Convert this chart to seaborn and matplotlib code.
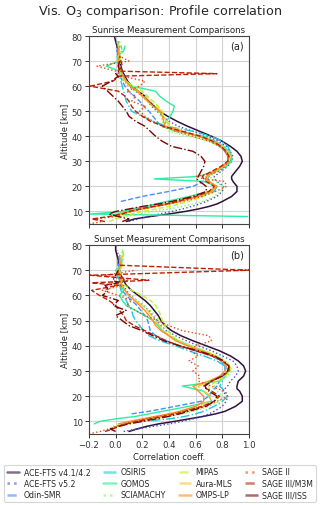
import numpy as np
import pandas as pd
import matplotlib
matplotlib.use("Agg")
import matplotlib.pyplot as plt
import seaborn as sns

N = float("nan")

ALT = [5, 6, 7, 8, 9, 10, 11, 12, 13, 14,
       16, 18, 20, 22, 23, 24,
       26, 28, 30, 32, 34, 36, 38, 40, 42, 44, 46, 48, 50, 52, 54, 56, 58, 60, 62,
       64, 65, 66,
       68, 70, 72, 74, 76, 78, 80]

INSTRUMENTS = ["ACE-FTS v4.1/4.2", "ACE-FTS v5.2", "Odin-SMR", "OSIRIS", "GOMOS",
               "SCIAMACHY", "MIPAS", "Aura-MLS", "OMPS-LP", "SAGE II",
               "SAGE III/M3M", "SAGE III/ISS"]
LINESTYLES = ["-", ":", "--", "-.", "-", ":", "--", "-.", "-", ":", "--", "-."]

# ---------------- Sunrise (a) ----------------
SR_ACE41 = [N, 0.08, 0.14, 0.26, 0.40, 0.52, 0.62, 0.70, 0.76, 0.80,
            0.87, 0.91, 0.91, 0.88, 0.87, 0.87,
            0.90, 0.93, 0.95, 0.94, 0.91, 0.86, 0.80, 0.72, 0.63, 0.54, 0.46, 0.39, 0.33, 0.29, 0.25, 0.22, 0.17, 0.12, 0.09,
            0.07, 0.06, 0.05,
            0.04, 0.03, 0.02, 0.02, 0.01, 0.00, -0.01]
SR_ACE52 = [N, 0.10, 0.17, 0.25, 0.33, 0.42, 0.50, 0.57, 0.63, 0.68,
            0.76, 0.80, 0.81, 0.76, 0.74, 0.74,
            0.79, 0.84, 0.87, 0.88, 0.86, 0.83, 0.77, 0.69, 0.58, 0.47, 0.40, 0.35, 0.31, 0.27, 0.24, 0.20, 0.15, 0.10, 0.07,
            0.05, 0.04, 0.04,
            0.03, 0.02, 0.02, 0.01, 0.01, 0.00, N]
SR_ODIN = [N, N, N, N, N, N, N, N, N, 0.04,
           0.20, 0.40, 0.58, 0.66, 0.67, 0.69,
           0.76, 0.81, 0.84, 0.84, 0.82, 0.78, 0.72, 0.62, 0.50, 0.34, 0.31, 0.28, 0.25, 0.21, 0.18, 0.14, 0.10, 0.07, 0.05,
           0.04, 0.03, 0.03,
           0.02, 0.02, 0.03, 0.01, 0.02, 0.02, N]
SR_OSIRIS = [N, N, N, -0.02, 0.02, 0.08, 0.17, 0.27, 0.36, 0.45,
             0.62, 0.74, 0.76, 0.70, 0.69, 0.70,
             0.75, 0.82, 0.86, 0.87, 0.86, 0.84, 0.80, 0.72, 0.58, 0.38, 0.28, 0.20, 0.12, 0.10, 0.08, 0.07, 0.06, 0.05, 0.04,
             0.03, 0.03, 0.04,
             0.02, 0.03, 0.02, 0.05, 0.04, N, N]
SR_GOMOS = [N, N, N, 0.99, -0.19, 0.05, 0.12, 0.22, 0.30, 0.38,
            0.55, 0.70, 0.76, 0.66, 0.29, 0.62,
            0.74, 0.83, 0.87, 0.87, 0.85, 0.81, 0.75, 0.66, 0.45, 0.36, 0.38, 0.41, 0.43, 0.44, 0.38, 0.33, 0.30, 0.12, 0.08,
            0.05, 0.04, 0.03,
            -0.07, 0.02, 0.01, 0.06, 0.07, N, N]
SR_SCIA = [N, N, 0.00, 0.08, 0.18, 0.28, 0.40, 0.50, 0.58, 0.65,
           0.74, 0.79, 0.80, 0.75, 0.72, 0.71,
           0.76, 0.82, 0.86, 0.86, 0.83, 0.78, 0.70, 0.55, 0.40, 0.36, 0.35, 0.34, 0.32, 0.28, 0.24, 0.20, 0.15, 0.10, 0.06,
           0.04, 0.03, 0.03,
           0.03, 0.04, 0.03, 0.05, 0.04, 0.03, N]
SR_MIPAS = [N, -0.05, 0.00, 0.05, 0.12, 0.20, 0.30, 0.40, 0.48, 0.55,
            0.66, 0.73, 0.75, 0.70, 0.68, 0.68,
            0.74, 0.80, 0.84, 0.85, 0.83, 0.79, 0.73, 0.62, 0.47, 0.40, 0.38, 0.36, 0.35, 0.32, 0.28, 0.24, 0.20, 0.13, 0.08,
            0.05, 0.04, 0.04,
            0.02, 0.03, 0.04, 0.03, 0.02, 0.03, N]
SR_MLS = [N, N, N, -0.02, 0.05, 0.12, 0.20, 0.30, 0.38, 0.46,
          0.60, 0.70, 0.74, 0.71, 0.69, 0.69,
          0.75, 0.81, 0.85, 0.86, 0.84, 0.80, 0.74, 0.64, 0.50, 0.42, 0.38, 0.36, 0.34, 0.30, 0.26, 0.22, 0.17, 0.11, 0.07,
          0.05, 0.04, 0.03,
          0.02, 0.01, 0.02, 0.03, 0.02, 0.01, N]
SR_OMPS = [N, N, N, N, 0.02, 0.10, 0.20, 0.30, 0.40, 0.48,
           0.62, 0.72, 0.76, 0.70, 0.68, 0.68,
           0.74, 0.80, 0.84, 0.85, 0.83, 0.79, 0.73, 0.63, 0.48, 0.37, 0.36, 0.35, 0.33, 0.28, 0.24, 0.20, 0.16, 0.11, 0.08,
           0.06, 0.05, 0.04,
           0.03, 0.02, 0.03, 0.02, 0.03, N, N]
SR_SAGE2 = [-0.20, -0.10, -0.15, 0.00, 0.05, 0.12, 0.20, 0.30, 0.40, 0.50,
            0.65, 0.75, 0.83, 0.82, 0.66, 0.60,
            0.78, 0.82, 0.85, 0.84, 0.82, 0.78, 0.70, 0.58, 0.45, 0.35, 0.28, 0.22, 0.18, 0.22, 0.12, 0.15, 0.08, 0.18, 0.22,
            0.05, 0.02, 0.00,
            -0.14, 0.10, 0.03, N, N, N, N]
SR_M3M = [N, -0.08, -0.18, -0.05, 0.05, 0.10, 0.18, 0.28, 0.38, 0.46,
          0.60, 0.70, 0.74, 0.68, 0.66, 0.65,
          0.72, 0.79, 0.84, 0.85, 0.83, 0.79, 0.73, 0.64, 0.50, 0.36, 0.26, 0.20, 0.15, 0.12, 0.10, 0.07, 0.02, -0.19, -0.02,
          0.03, 0.76, 0.02,
          0.05, 0.04, 0.03, N, N, N, N]
SR_ISS = [N, 0.05, 0.10, 0.02, -0.05, 0.00, 0.10, 0.20, 0.32, 0.42,
          0.58, 0.68, 0.68, 0.63, 0.61, 0.62,
          0.64, 0.66, 0.67, 0.64, 0.58, 0.42, 0.35, 0.30, 0.26, 0.22, 0.15, 0.10, 0.08, 0.05, 0.02, -0.02, -0.06, -0.10, -0.03,
          0.02, 0.00, 0.03,
          0.02, 0.03, N, N, N, N, N]

# ---------------- Sunset (b) ----------------
SS_ACE41 = [N, 0.10, 0.16, 0.23, 0.32, 0.44, 0.55, 0.66, 0.75, 0.82,
            0.90, 0.95, 0.95, 0.93, 0.91, 0.91,
            0.92, 0.96, 0.975, 0.96, 0.92, 0.86, 0.78, 0.68, 0.58, 0.49, 0.42, 0.37, 0.34, 0.32, 0.29, 0.26, 0.22, 0.17, 0.12,
            0.08, 0.07, 0.06,
            0.04, 0.03, 0.02, 0.02, 0.01, 0.00, 0.00]
SS_ACE52 = [N, 0.06, 0.16, 0.28, 0.40, 0.50, 0.58, 0.65, 0.70, 0.74,
            0.80, 0.83, 0.84, 0.80, 0.82, 0.84,
            0.86, 0.90, 0.92, 0.91, 0.88, 0.80, 0.72, 0.62, 0.53, 0.45, 0.38, 0.34, 0.31, 0.28, 0.25, 0.21, 0.16, 0.11, 0.08,
            0.06, 0.05, 0.05,
            0.04, 0.03, 0.03, 0.02, 0.02, 0.01, N]
SS_ODIN = [N, N, N, N, N, N, N, N, 0.12, 0.25,
           0.45, 0.64, 0.70, 0.72, 0.74, 0.76,
           0.78, 0.80, 0.82, 0.82, 0.79, 0.72, 0.60, 0.48, 0.38, 0.30, 0.26, 0.25, 0.24, 0.22, 0.19, 0.16, 0.12, 0.08, 0.05,
           0.04, 0.03, 0.03,
           0.02, 0.03, 0.02, 0.04, 0.02, N, N]
SS_OSIRIS = [N, N, N, N, 0.05, 0.20, 0.40, 0.52, 0.60, 0.66,
             0.74, 0.80, 0.84, 0.82, 0.80, 0.78,
             0.80, 0.82, 0.84, 0.82, 0.76, 0.66, 0.55, 0.45, 0.33, 0.25, 0.21, 0.18, 0.15, 0.13, 0.12, 0.10, 0.08, 0.06, 0.04,
             0.03, 0.02, 0.03,
             0.01, 0.02, 0.03, 0.05, 0.03, N, N]
SS_GOMOS = [N, N, N, N, -0.16, -0.12, 0.00, 0.15, 0.25, 0.35,
            0.55, 0.72, 0.70, 0.66, 0.58, 0.50,
            0.78, 0.82, 0.85, 0.85, 0.80, 0.74, 0.66, 0.56, 0.47, 0.40, 0.35, 0.32, 0.28, 0.22, 0.15, 0.08, 0.05, 0.03, 0.06,
            0.03, 0.02, 0.04,
            0.02, 0.00, 0.04, 0.03, 0.06, 0.05, N]
SS_SCIA = [N, N, N, -0.02, 0.05, 0.15, 0.28, 0.40, 0.50, 0.58,
           0.70, 0.78, 0.80, 0.76, 0.74, 0.74,
           0.78, 0.84, 0.87, 0.86, 0.82, 0.76, 0.66, 0.55, 0.46, 0.40, 0.37, 0.35, 0.33, 0.30, 0.26, 0.21, 0.16, 0.10, 0.07,
           0.05, 0.04, 0.04,
           0.03, 0.02, 0.04, 0.06, 0.04, 0.05, N]
SS_MIPAS = [N, N, -0.04, 0.02, 0.08, 0.16, 0.26, 0.36, 0.45, 0.53,
            0.66, 0.74, 0.77, 0.72, 0.70, 0.70,
            0.76, 0.82, 0.86, 0.86, 0.82, 0.76, 0.67, 0.57, 0.48, 0.42, 0.39, 0.37, 0.35, 0.34, 0.32, 0.30, 0.26, 0.20, 0.12,
            0.07, 0.06, 0.05,
            0.04, 0.03, 0.05, 0.04, 0.06, 0.05, N]
SS_MLS = [N, N, N, 0.00, 0.06, 0.14, 0.24, 0.34, 0.43, 0.50,
          0.62, 0.70, 0.72, 0.66, 0.63, 0.62,
          0.72, 0.80, 0.84, 0.84, 0.80, 0.74, 0.64, 0.54, 0.46, 0.40, 0.36, 0.33, 0.30, 0.27, 0.24, 0.20, 0.15, 0.10, 0.07,
          0.05, 0.04, 0.04,
          0.03, 0.03, 0.05, 0.04, 0.06, N, N]
SS_OMPS = [N, N, N, N, 0.02, 0.10, 0.20, 0.30, 0.40, 0.48,
           0.60, 0.66, 0.66, 0.62, 0.60, 0.58,
           0.70, 0.78, 0.82, 0.83, 0.80, 0.74, 0.64, 0.54, 0.45, 0.40, 0.34, 0.30, 0.28, 0.25, 0.22, 0.18, 0.14, 0.10, 0.07,
           0.05, 0.04, 0.04,
           0.03, 0.02, 0.04, 0.03, 0.03, N, N]
SS_SAGE2 = [-0.20, -0.12, -0.05, 0.00, 0.06, 0.14, 0.22, 0.32, 0.42, 0.50,
            0.65, 0.76, 0.84, 0.82, 0.76, 0.72,
            0.62, 0.63, 0.58, 0.62, 0.55, 0.62, 0.56, 0.60, 0.72, 0.70, 0.50, 0.40, 0.32, 0.22, 0.15, 0.08, 0.12, 0.02, -0.10,
            0.05, -0.05, 0.10,
            -0.08, 0.15, N, N, N, N, N]
SS_M3M = [N, -0.08, -0.02, 0.02, 0.08, 0.16, 0.26, 0.36, 0.45, 0.52,
          0.65, 0.74, 0.78, 0.72, 0.68, 0.66,
          0.72, 0.80, 0.85, 0.85, 0.80, 0.72, 0.60, 0.48, 0.38, 0.30, 0.22, 0.14, 0.08, 0.06, 0.03, 0.00, -0.05, -0.12, -0.18,
          0.02, -0.18, 0.25,
          -0.19, 1.00, 0.02, N, N, N, N]
SS_ISS = [N, 0.00, -0.04, 0.02, 0.10, 0.20, 0.30, 0.40, 0.48, 0.55,
          0.68, 0.74, 0.76, 0.70, 0.68, 0.67,
          0.72, 0.80, 0.84, 0.85, 0.81, 0.74, 0.62, 0.48, 0.36, 0.28, 0.20, 0.10, 0.05, 0.00, 0.08, -0.02, 0.02, -0.10, -0.05,
          -0.08, 0.02, -0.02,
          0.00, 0.02, N, N, N, N, N]

SUNRISE = [SR_ACE41, SR_ACE52, SR_ODIN, SR_OSIRIS, SR_GOMOS, SR_SCIA,
           SR_MIPAS, SR_MLS, SR_OMPS, SR_SAGE2, SR_M3M, SR_ISS]
SUNSET = [SS_ACE41, SS_ACE52, SS_ODIN, SS_OSIRIS, SS_GOMOS, SS_SCIA,
          SS_MIPAS, SS_MLS, SS_OMPS, SS_SAGE2, SS_M3M, SS_ISS]

rows = []
for panel, series in (("a", SUNRISE), ("b", SUNSET)):
    for name, vals in zip(INSTRUMENTS, series):
        for alt, r in zip(ALT, vals):
            rows.append({"panel": panel, "instrument": name, "alt": alt, "r": r})
df = pd.DataFrame(rows)

sns.set_theme(style="whitegrid", rc={
    "axes.edgecolor": "#444444",
    "axes.linewidth": 0.8,
    "grid.color": "#d3d3d3",
    "grid.linewidth": 0.8,
    "xtick.bottom": True,
    "ytick.left": True,
    "xtick.major.size": 3,
    "ytick.major.size": 3,
    "xtick.major.width": 0.7,
    "ytick.major.width": 0.7,
    "xtick.color": "#333333",
    "ytick.color": "#333333",
})
plt.rcParams["font.family"] = ["DejaVu Sans"]

cmap = matplotlib.colormaps["turbo"]
COLORS = [cmap(v) for v in np.linspace(0, 1, 12)]

fig = plt.figure(figsize=(3.2, 5.06), dpi=100)
ax_a = fig.add_axes([0.278, 0.5553, 0.5, 0.3715])
ax_b = fig.add_axes([0.278, 0.1403, 0.5, 0.3735])

titles = {"a": "Sunrise Measurement Comparisons", "b": "Sunset Measurement Comparisons"}
for ax, panel in ((ax_a, "a"), (ax_b, "b")):
    sub = df[df.panel == panel]
    for name, color, ls in zip(INSTRUMENTS, COLORS, LINESTYLES):
        d = sub[sub.instrument == name]
        sns.lineplot(data=d, x="r", y="alt", sort=False, estimator=None,
                     color=color, linestyle=ls, lw=1.0 if name != INSTRUMENTS[0] else 1.1,
                     label=name, legend=False, ax=ax)
    ax.set_xlim(-0.2, 1.0)
    ax.set_ylim(5, 80)
    ax.set_xticks(np.arange(-0.2, 1.01, 0.2))
    ax.set_yticks(np.arange(10, 81, 10))
    ax.tick_params(labelsize=6.2, pad=1.5)
    ax.set_ylabel("Altitude [km]", fontsize=6.0, labelpad=2)
    ax.set_title(titles[panel], fontsize=6.2, pad=3, color="#222222")
    ax.text(0.97, 0.975, f"({panel})", transform=ax.transAxes, ha="right", va="top",
            fontsize=7.0, color="#222222")

ax_a.set_xlabel("")
ax_a.tick_params(labelbottom=False)
ax_b.set_xlabel("Correlation coeff.", fontsize=6.0, labelpad=2)

fig.suptitle("Vis. O$_3$ comparison: Profile correlation", fontsize=9.2, y=0.995, va="top")

handles, labels = ax_b.get_legend_handles_labels()
leg = fig.legend(handles, labels, ncol=4, loc="lower left",
                 bbox_to_anchor=(0.0125, 0.006, 0.975, 0.069), mode="expand",
                 fontsize=5.6, frameon=True, handlelength=1.6, handletextpad=0.6,
                 labelspacing=0.32, borderaxespad=0.0, borderpad=0.35, columnspacing=1.0)
for line in leg.get_lines():
    line.set_linewidth(1.8)
    line.set_alpha(0.6)
leg.get_frame().set_edgecolor("#cccccc")
leg.get_frame().set_linewidth(0.8)

fig.savefig("out.png", dpi=100)
